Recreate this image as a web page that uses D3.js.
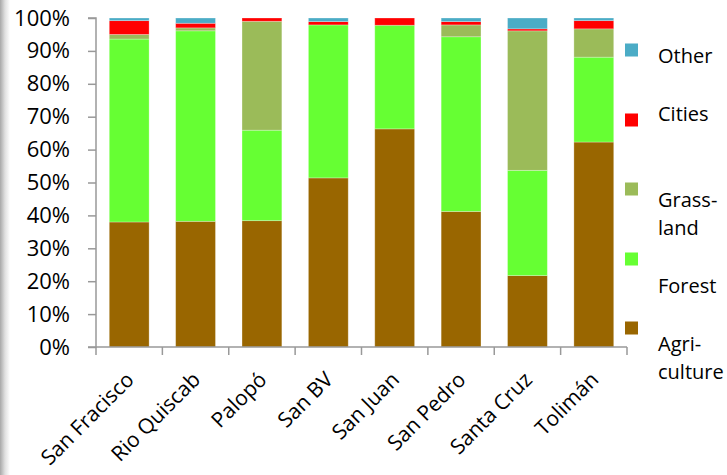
<!DOCTYPE html>
<html><head><meta charset="utf-8">
<script src="https://cdn.jsdelivr.net/npm/d3@7"></script>
<style>body{margin:0;background:#fff}svg{display:block}text{font-family:"Open Sans",sans-serif}</style>
</head><body><svg id="c" width="727" height="475"></svg>
<script>
const categories = ["San Fracisco","Rio Quiscab","Palopó","San BV","San Juan","San Pedro","Santa Cruz","Tolimán"];
const agriculture = [38.0, 38.2, 38.4, 51.4, 66.3, 41.2, 21.7, 62.3];
const forest      = [55.6, 57.9, 27.5, 46.5, 31.5, 53.1, 32.0, 25.8];
const grassland   = [1.4, 0.9, 33.1, 0.0, 0.0, 3.6, 42.4, 8.6];
const cities      = [4.2, 1.4, 1.0, 1.0, 2.2, 1.0, 0.6, 2.5];
const other       = [0.8, 1.6, 0.0, 1.1, 0.0, 1.1, 3.3, 0.8];
const seriesNames = ["Agriculture","Forest","Grassland","Cities","Other"];
const legendLabels = [["Agri-","culture"],["Forest"],["Grass-","land"],["Cities"],["Other"]];
const colors = ["#996600","#66FF33","#9BBB59","#FF0000","#4BACC6"];
const yTicks = [0,10,20,30,40,50,60,70,80,90,100];

const svg = d3.select("#c");
const defs = svg.append("defs");
const g0 = defs.append("linearGradient").attr("id","sh").attr("x1","0").attr("x2","1");
g0.append("stop").attr("offset","0").attr("stop-color","#a8a8a8");
g0.append("stop").attr("offset","0.5").attr("stop-color","#e0e0e0");
g0.append("stop").attr("offset","1").attr("stop-color","#ffffff");
svg.append("rect").attr("x",0).attr("y",0).attr("width",10).attr("height",475).attr("fill","url(#sh)");

const x0 = 96, x1 = 627, yTop = 18, yBot = 347;
const x = d3.scaleBand().domain(categories).range([x0,x1]).paddingInner(0.4).paddingOuter(0.2);
const y = d3.scaleLinear().domain([0,100]).range([yBot,yTop]);

const seriesArr = [agriculture, forest, grassland, cities, other];
const table = categories.map((c,i)=>{const o={cat:c}; seriesNames.forEach((s,k)=>o[s]=seriesArr[k][i]); return o;});
const stacked = d3.stack().keys(seriesNames)(table);

svg.append("g").selectAll("g").data(stacked).join("g")
  .attr("fill",(d,i)=>colors[i])
  .selectAll("rect").data(d=>d).join("rect")
  .attr("x",d=>x(d.data.cat)).attr("width",x.bandwidth())
  .attr("y",d=>y(d[1])).attr("height",d=>Math.max(0,y(d[0])-y(d[1])))
  .attr("stroke","rgba(255,255,255,0.35)").attr("stroke-width",0.8);

// y axis
const ya = svg.append("g").attr("transform",`translate(${x0},0)`)
  .call(d3.axisLeft(y).tickValues(yTicks).tickFormat(d=>d+"%").tickSize(8).tickPadding(18));
ya.select(".domain").attr("stroke","#999").attr("stroke-width",1.5).attr("d",`M-8,${yTop}H0V${yBot}H-8`);
ya.selectAll(".tick line").attr("stroke","#999").attr("stroke-width",1.5);
ya.selectAll("text").attr("font-size",22).attr("fill","#000").attr("font-family","Open Sans");

// x axis
const xa = svg.append("g").attr("transform",`translate(0,${yBot})`);
xa.append("line").attr("x1",x0).attr("x2",x1).attr("y1",0).attr("y2",0).attr("stroke","#999").attr("stroke-width",1.5);
const step = x.step();
xa.selectAll("line.t").data(d3.range(categories.length+1)).join("line").attr("class","t")
  .attr("x1",i=>x0+i*step).attr("x2",i=>x0+i*step).attr("y1",0).attr("y2",8)
  .attr("stroke","#999").attr("stroke-width",1.5);
xa.selectAll("text").data(categories).join("text")
  .attr("transform",d=>`translate(${x(d)+x.bandwidth()/2+6},${34}) rotate(-45)`)
  .attr("text-anchor","end").attr("font-size",21).attr("fill","#000").text(d=>d);

// legend
const legSq = [328,259,189,120,50];
const legTxt = [[351,379],[293],[207,235],[121],[63]];
const lg = svg.append("g");
seriesNames.forEach((s,i)=>{
  lg.append("rect").attr("x",625).attr("y",legSq[i]-6.5).attr("width",13).attr("height",13).attr("fill",colors[i]);
  legendLabels[i].forEach((t,j)=>{
    lg.append("text").attr("x",658).attr("y",legTxt[i][j]).attr("font-size",20).attr("fill","#000").text(t);
  });
});
</script></body></html>
